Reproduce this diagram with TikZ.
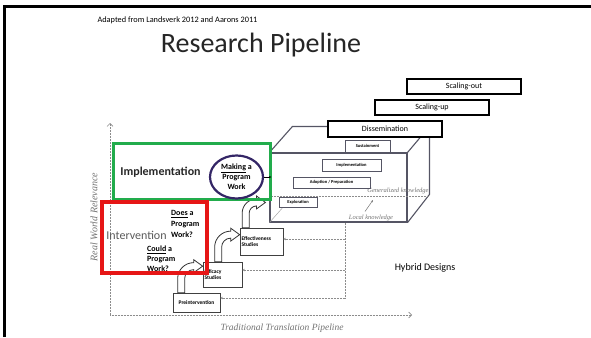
\documentclass[tikz,border=0pt]{standalone}
\usepackage{fontspec}
\setmainfont{Carlito}
\newfontfamily\timesfont{Liberation Serif}
\usetikzlibrary{arrows.meta, positioning, calc, shapes.geometric}

\definecolor{implgreen}{RGB}{34,172,76}
\definecolor{intvred}{RGB}{230,22,22}
\definecolor{circpurple}{RGB}{52,38,102}
\definecolor{cubegray}{RGB}{85,85,100}

\begin{document}
\begin{tikzpicture}[x=1pt, y=-1pt,
	stage/.style={draw=black, line width=1.6pt, fill=white, minimum width=114pt, minimum height=15pt, inner sep=0pt, font=\fontsize{8}{9}\selectfont},
	phase/.style={draw=cubegray, line width=0.7pt, fill=white, inner sep=0pt, font=\bfseries\fontsize{4.5}{5}\selectfont},
	study/.style={draw=black!75, line width=0.7pt, fill=white, inner sep=1.5pt, font=\bfseries\fontsize{5.5}{6.5}\selectfont, align=left},
	cube/.style={draw=cubegray, line width=1.1pt},
	dots/.style={draw=black!45, line width=0.6pt, dash pattern=on 0.6pt off 0.9pt},
	feedback/.style={dots, -{Stealth[length=2.5pt, width=2.5pt]}},
	blockarrow/.style={fill=white, draw=black!80, line width=0.8pt},
	italictext/.style={font=\timesfont\itshape\fontsize{#1}{#1}\selectfont, text=black!55},
	question/.style={anchor=west, inner sep=0pt, align=left, font=\bfseries\fontsize{8}{#1}\selectfont}]

	\useasboundingbox (0,0) rectangle (591,337);

	% Slide frame
	\draw[line width=3pt] (4.5,337) -- (4.5,6.5) -- (591,6.5);

	% Title
	\node[font=\fontsize{8.3}{9}\selectfont] (source) at (177.5,20) {Adapted from Landsverk 2012 and Aarons 2011};
	\node[font=\fontsize{28}{32}\selectfont, text=black!85] (title) at (261,45) {Research Pipeline};

	% Axes
	\coordinate (origin) at (110,315);
	\draw[dots, -{Straight Barb[length=3pt]}] (origin) -- (110,123) coordinate (ytop);
	\draw[dots, -{Straight Barb[length=3pt]}] (origin) -- (412,315) coordinate (xend);
	\node[italictext=10, rotate=90] (ylab) at (94,217) {Real World Relevance};
	\node[italictext=9.5] (xlab) at (282,328) {Traditional Translation Pipeline};

	% Cube
	\node[cube, minimum width=137pt, minimum height=69pt, inner sep=0pt] (front) at (338.5,187.5) {};
	\draw[draw=black!35, line width=0.5pt] (front.south west) -- ++(23,-26);
	\draw[cube] (front.north west) -- ++(23,-26) -- ++(137,0) coordinate (backNE) -- ++(0,68) -- (front.south east);
	\draw[cube] (front.north east) -- (backNE);
	\draw[dots] (front.west |- 0,196) -- (backNE |- 0,196);
	\node[italictext=6.5] (gen) at (398,191) {Generalized knowledge};
	\node[italictext=6.5] (loc) at (371,218) {Local knowledge};
	\coordinate (genpt) at (373,200);
	\draw[black!55, line width=0.5pt, -{Stealth[length=2.5pt]}] ($(loc.north)+(-6,0)$) -- (genpt);

	% Phases inside the cube
	\node[phase, minimum width=45pt, minimum height=12pt] (sustain) at (367.5,146) {Sustainment};
	\node[phase, minimum width=59pt, minimum height=12pt] (implphase) at (351.5,165) {Implementation};
	\node[phase, minimum width=77pt, minimum height=11pt] (adopt) at (331.5,182.5) {Adoption / Preparation};
	\node[phase, minimum width=38pt, minimum height=10pt] (explore) at (298,202) {Exploration};

	% Stages
	\node[stage] (scaleout) at (464,86.5) {Scaling-out};
	\node[stage] (scaleup) at (432,107.5) {Scaling-up};
	\node[stage, minimum height=16pt] (dissem) at (385,129) {Dissemination};

	% Studies
	\node[study, minimum width=47pt, minimum height=19pt, align=center] (preint) at (196.5,302.5) {Preintervention};
	\node[study, text width=36pt, minimum height=25pt] (efficacy) at (222.5,274.5) {Efficacy\\Studies};
	\node[study, text width=40pt, minimum height=27pt] (effect) at (261.5,241.5) {Effectiveness\\Studies};

	\coordinate (rail) at (front.south -| 345,0);
	\draw[dots] (rail) -- (rail |- 0,298);
	\foreach \b/\y in {effect/239, efficacy/270, preint/298} {
		\draw[feedback] (rail |- 0,\y) -- (\b.east |- 0,\y);
	}

	\foreach \s/\dx/\t/\tx/\ty in {preint/5/efficacy/0/4.5, efficacy/12/effect/0/7, effect/2.5/front/-4/50} {
		\filldraw[blockarrow] let \p1=($(\s.north west)+(\dx,0)$), \p2=($(\t.north west)+(\tx,\ty)$), \n1={\x2-\x1-16pt} in
			(\x1,\y1) -- (\x1,\y2-3.5pt-\n1*1pt) arc[start angle=180, end angle=90, radius=\n1*1pt+7pt]
			-- (\x2-9pt,\y2+6.5pt) -- (\x2,\y2) -- (\x2-9pt,\y2-6.5pt) -- (\x2-9pt,\y2-3.5pt)
			arc[start angle=90, end angle=180, radius=\n1*1pt] -- (\x1+7pt,\y1) -- cycle;
	}

	% Implementation
	\node[draw=implgreen, line width=3pt, minimum width=157pt, minimum height=56pt, inner sep=0pt] (impl) at (191.5,171) {};
	\node[font=\bfseries\fontsize{12}{14}\selectfont, text=black!85] (impltext) at (160.5,172) {Implementation};
	\node[ellipse, draw=circpurple, line width=2.2pt, minimum width=53pt, minimum height=43pt, inner sep=0pt, align=center, font=\bfseries\fontsize{8}{10}\selectfont] (making) at (236.5,177) {\underline{Making} a\\Program\\Work};
	\draw[line width=0.6pt, -{Stealth[length=2.5pt]}] (making.east) -- (impl.east |- making.east);

	% Intervention
	\node[draw=intvred, line width=3.5pt, minimum width=105pt, minimum height=71pt, inner sep=0pt] (intv) at (154.5,237.5) {};
	\node[font=\fontsize{12}{14}\selectfont, text=black!65] (intvtext) at (136.5,235) {Intervention};
	\node[question=11] (does) at (171,224) {\underline{Does} a\\Program\\Work?};
	\node[question=10] (could) at (147,259) {\underline{Could} a\\Program\\Work?};

	\node[font=\fontsize{10}{12}\selectfont] (hybrid) at (425,268) {Hybrid Designs};

\end{tikzpicture}
\end{document}
